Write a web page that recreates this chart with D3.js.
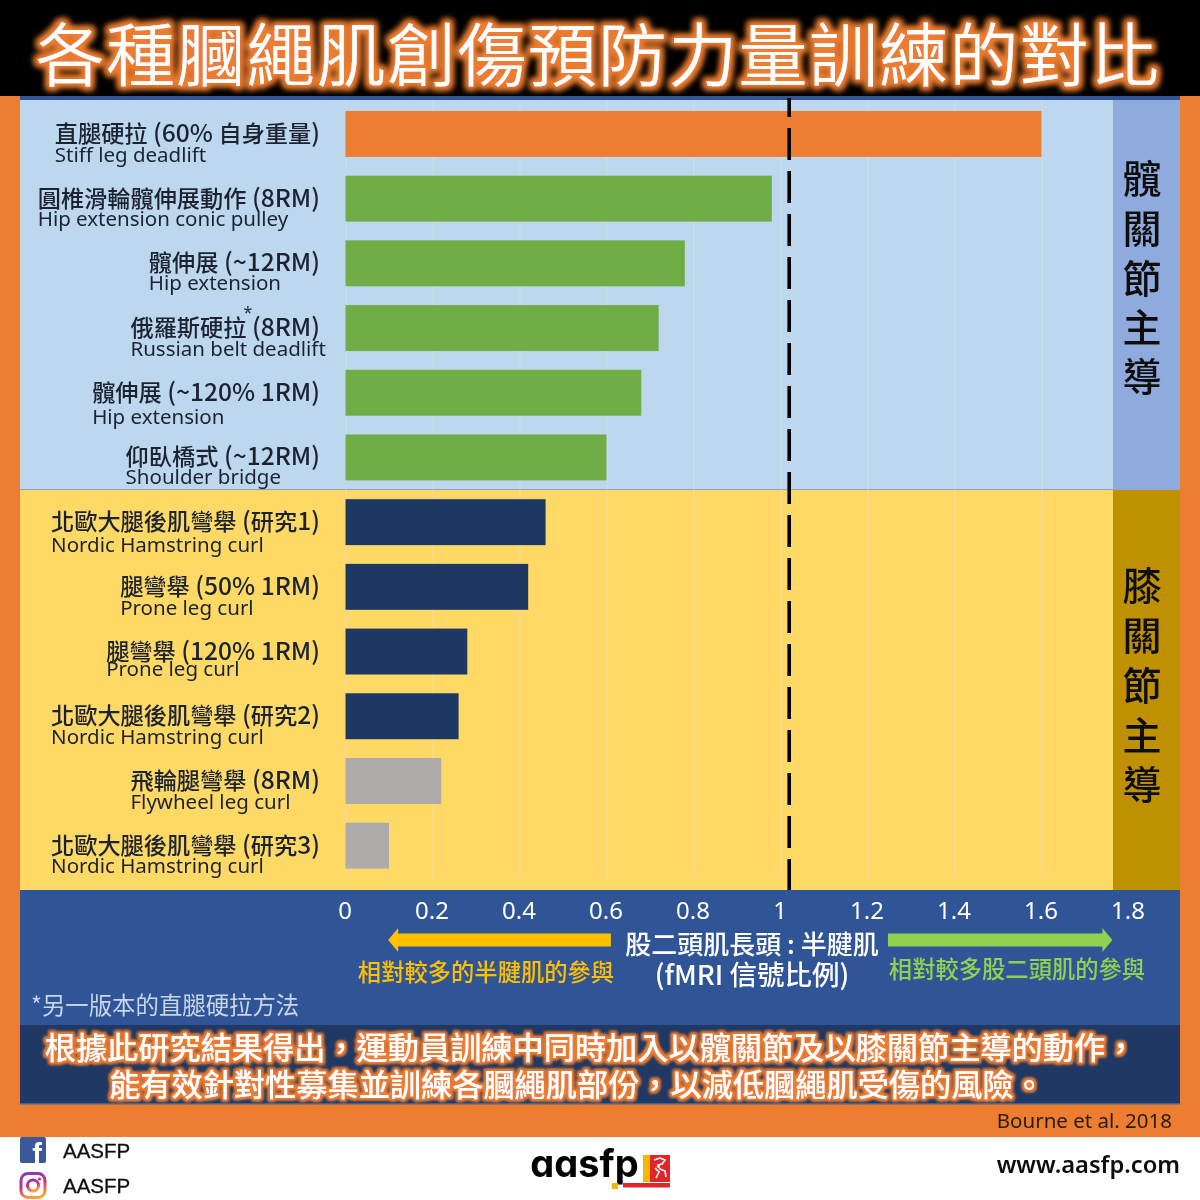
<!DOCTYPE html>
<html lang="zh-Hant-TW"><head><meta charset="utf-8">
<script src="https://cdn.jsdelivr.net/npm/d3@7"></script>
<style>html,body{margin:0;padding:0;background:#fff}svg{display:block}</style></head>
<body><div id="chart"></div>
<script>
const labelsZh = ["直腿硬拉 (60% 自身重量)","圓椎滑輪髖伸展動作 (8RM)","髖伸展 (~12RM)","俄羅斯硬拉 (8RM)","髖伸展 (~120% 1RM)","仰臥橋式 (~12RM)","北歐大腿後肌彎舉 (研究1)","腿彎舉 (50% 1RM)","腿彎舉 (120% 1RM)","北歐大腿後肌彎舉 (研究2)","飛輪腿彎舉 (8RM)","北歐大腿後肌彎舉 (研究3)"];
const labelsEn = ["Stiff leg deadlift","Hip extension conic pulley","Hip extension","Russian belt deadlift","Hip extension","Shoulder bridge","Nordic Hamstring curl","Prone leg curl","Prone leg curl","Nordic Hamstring curl","Flywheel leg curl","Nordic Hamstring curl"];
const ratios = [1.6,0.98,0.78,0.72,0.68,0.6,0.46,0.42,0.28,0.26,0.22,0.1];
const groups = ["stiff","hip","hip","hip","hip","hip","nordic","nordic","nordic","nordic","flywheel","flywheel"];
const tickValues = [0,0.2,0.4,0.6,0.8,1,1.2,1.4,1.6,1.8];
const refRatio = 1.02;
const titleText = "各種膕繩肌創傷預防力量訓練的對比";
const hipSide = Array.from("髖關節主導");
const kneeSide = Array.from("膝關節主導");
const conclusion = ["根據此研究結果得出，運動員訓練中同時加入以髖關節及以膝關節主導的動作，","能有效針對性募集並訓練各膕繩肌部份，以減低膕繩肌受傷的風險。"];
// per-label baseline offset of the English line, as laid out in the source
const enLineGap = [20,19,19,20,23,19,22,20,16,20,20,19];

const CJK = '"Noto Sans CJK TC","Noto Sans",sans-serif';
const LAT = '"Noto Sans","Noto Sans CJK TC",sans-serif';
const ARIAL = '"Liberation Sans",Arial,sans-serif';
const color = d3.scaleOrdinal(["stiff","hip","nordic","flywheel"],["#ED7D31","#70AD47","#1F3864","#AFABAB"]);

const svg = d3.select("#chart").append("svg").attr("width",1200).attr("height",1200);
const defs = svg.append("defs");
function glow(id,r,b,op){
  const f = defs.append("filter").attr("id",id).attr("x","-5%").attr("y","-30%").attr("width","110%").attr("height","160%");
  f.append("feMorphology").attr("in","SourceAlpha").attr("operator","dilate").attr("radius",r).attr("result","d");
  f.append("feGaussianBlur").attr("in","d").attr("stdDeviation",b).attr("result","bl");
  f.append("feFlood").attr("flood-color","#ED7D31").attr("flood-opacity",op);
  f.append("feComposite").attr("in2","bl").attr("operator","in").attr("result","g");
  const m = f.append("feMerge");
  m.append("feMergeNode").attr("in","g");
  m.append("feMergeNode").attr("in","g");
  m.append("feMergeNode").attr("in","SourceGraphic");
}
glow("glowT",2.5,3,1); glow("glowC",1.6,1.7,1);
const soft = defs.append("filter").attr("id","soft"); soft.append("feGaussianBlur").attr("stdDeviation",0.45);
const igGrad = defs.append("linearGradient").attr("id","igGrad").attr("x1",0.2).attr("y1",0).attr("x2",0.5).attr("y2",1);
igGrad.append("stop").attr("offset",0).attr("stop-color","#8A3AB9");
igGrad.append("stop").attr("offset",0.5).attr("stop-color","#CD2F7B");
igGrad.append("stop").attr("offset",1).attr("stop-color","#F9A13A");

const rect=(x,y,w,h,c,p=svg)=>p.append("rect").attr("x",x).attr("y",y).attr("width",w).attr("height",h).attr("fill",c);
rect(0,0,1200,1200,"#fff");
rect(0,96,1200,1041,"#ED7D31");
rect(0,0,1200,96,"#000");
rect(20,96,1160,4,"#2F5597");
rect(20,100,1093,390,"#BDD7EE");
rect(20,490,1093,400,"#FFD966");
rect(20,489,1093,1,"#8aa3b8");
rect(20,890,1160,135,"#2F5597");
rect(20,1025,1160,78,"#203864");
rect(20,1103,1160,1.5,"#44618f");

const x = d3.scaleLinear().domain([0,1.8]).range([345.5,1128.5]);
const y = d3.scaleBand().domain(d3.range(ratios.length)).range([101.6,878]).paddingInner(0.29).paddingOuter(0.145);

// grid
const grid = svg.append("g").attr("transform","translate(0,877)")
  .call(d3.axisBottom(x).tickValues(tickValues).tickSize(-777).tickFormat(""));
grid.select(".domain").remove();
grid.selectAll("line").attr("stroke","#e2e2e2").attr("stroke-opacity",0.55).attr("stroke-width",1);

rect(1113,100,67,390,"#8FAADC");
rect(1113,490,67,400,"#BF9000");

const g = svg.append("g").attr("filter","url(#soft)");
g.selectAll("rect.bar").data(ratios).join("rect").attr("class","bar")
  .attr("x",x(0)).attr("y",(d,i)=>y(i)).attr("width",d=>x(d)-x(0)).attr("height",y.bandwidth())
  .attr("fill",(d,i)=>color(groups[i]));

// labels: Han runs and Latin runs are set at different sizes, as in the source
labelsZh.forEach((t,i)=>{
  const base = y(i)+y.bandwidth()/2+8;
  const zh = g.append("text").attr("x",320).attr("y",base).attr("text-anchor","end")
    .attr("font-family",CJK).attr("fill","#1b2433");
  t.match(/[\x00-\x7f]+|[^\x00-\x7f]+/g).forEach(run=>{
    const latin=/^[\x00-\x7f]/.test(run);
    zh.append("tspan").attr("font-size",latin?24.6:23.2).attr("font-weight",500).text(run);
  });
  const left = 320 - zh.node().getComputedTextLength();
  g.append("text").attr("x",left).attr("y",base+enLineGap[i]).attr("font-family",LAT)
    .attr("font-size",20.5).attr("fill","#1b2433").text(labelsEn[i]);
});
g.append("text").attr("x",248).attr("y",318).attr("text-anchor","middle").attr("font-family",LAT).attr("font-size",16).attr("fill","#1b2433").text("*");

// reference line
g.append("line").attr("x1",x(refRatio)).attr("x2",x(refRatio)).attr("y1",98).attr("y2",890)
  .attr("stroke","#000").attr("stroke-width",3.6).attr("stroke-dasharray","32 11").attr("stroke-dashoffset",13);

// axis labels
const ax = g.append("g").attr("transform","translate(-1,890)")
  .call(d3.axisBottom(x).tickValues(tickValues).tickSize(0).tickPadding(12).tickFormat(d=>d));
ax.select(".domain").remove();
ax.selectAll("text").attr("font-family",LAT).attr("font-size",24).attr("fill","#fff");

// side panels
const side=(chars,ys)=>chars.forEach((c,i)=>g.append("text").attr("x",1142).attr("y",ys[i]).attr("text-anchor","middle")
  .attr("font-family",CJK).attr("font-size",39).attr("font-weight",500).attr("fill","#111").text(c));
side(hipSide,[193,243,293,342,391]);
side(kneeSide,[600,650,700,750,799]);

// arrows
function arrow(x0,x1,c){
  const d=d3.path(), s=Math.sign(x1-x0), yc=940, hw=12, sw=6.5, hl=10;
  d.moveTo(x0,yc-sw); d.lineTo(x1-s*hl,yc-sw); d.lineTo(x1-s*hl,yc-hw); d.lineTo(x1,yc);
  d.lineTo(x1-s*hl,yc+hw); d.lineTo(x1-s*hl,yc+sw); d.lineTo(x0,yc+sw); d.closePath();
  g.append("path").attr("d",d.toString()).attr("fill",c);
}
arrow(x(0.61),x(0.098),"#FFC000");
arrow(x(1.247),x(1.763),"#92D050");
const txt=(s,px,py,fs,c,a="start",ff=CJK,w=null,parent=g)=>{const t=parent.append("text").attr("x",px).attr("y",py).attr("font-size",fs)
  .attr("fill",c).attr("text-anchor",a).attr("font-family",ff).text(s); if(w)t.attr("font-weight",w); return t;};
txt("相對較多的半腱肌的參與",486,981,23.3,"#FFC000","middle",CJK,500);
txt("相對較多股二頭肌的參與",1017,978,23.3,"#92D050","middle",CJK,500);
txt("股二頭肌長頭 : 半腱肌",752,954,26,"#fff","middle",CJK,500);
txt("(fMRI 信號比例)",752,985,27.5,"#fff","middle",CJK,500);
txt("*另一版本的直腿硬拉方法",31,1014,23.4,"#C9D6EA");

// title and conclusion
txt(titleText,598,80.5,69,"#fff","middle",CJK,350,svg).attr("letter-spacing",1.3).attr("filter","url(#glowT)");
txt(conclusion[0],590.5,1059,31.2,"#fff","middle",CJK,500,svg).attr("filter","url(#glowC)");
txt(conclusion[1],577,1096,31.2,"#fff","middle",CJK,500,svg).attr("filter","url(#glowC)");

// credits
txt("Bourne et al. 2018",1172,1128,20.5,"#2a1c10","end",LAT);
txt("www.aasfp.com",1180,1173,23.7,"#111","end",LAT,600);
txt("AASFP",63,1158,20.5,"#111","start",ARIAL,null,g).attr("stroke","#111").attr("stroke-width",0.3);
txt("AASFP",63,1193,20.5,"#111","start",ARIAL,null,g).attr("stroke","#111").attr("stroke-width",0.3);

// social icons
rect(20,1137,26,26,"#3B5998").attr("rx",2);
txt("f",37,1164,29,"#fff","middle",ARIAL,700,svg);
const ig=svg.append("g").attr("fill","none").attr("stroke","url(#igGrad)").attr("stroke-width",3);
ig.append("rect").attr("x",21).attr("y",1173.5).attr("width",24).attr("height",24).attr("rx",7);
ig.append("circle").attr("cx",33).attr("cy",1185.5).attr("r",5.5);
svg.append("circle").attr("cx",39.5).attr("cy",1179).attr("r",1.6).attr("fill","#B5338A");

// logo
txt("aasfp",584.5,1177,38,"#000","middle",'Inter,Lato,sans-serif',700,g)
  .style("font-feature-settings",'"cv11"');
rect(612,1183,6,6,"#F5B800",g);
rect(643,1155,7,27,"#F5B800",g);
rect(650,1155,20,27,"#E1252B",g);
rect(623,1183,47,4.5,"#E1252B",g);
g.append("path").attr("d","M654 1160l6-2 5 2-3 4-4 1 2 4 5 2 1 6M655 1168l4 4-3 6M660 1165l-3 2")
  .attr("fill","none").attr("stroke","#fff").attr("stroke-width",1.6);
</script></body></html>
